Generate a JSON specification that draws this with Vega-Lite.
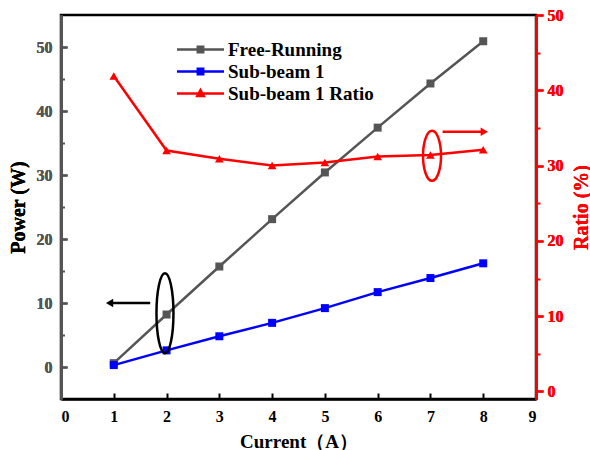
{
  "$schema": "https://vega.github.io/schema/vega-lite/v6.json",
  "width": 475,
  "height": 384,
  "autosize": "none",
  "padding": {"left": 61, "top": 15, "right": 54, "bottom": 51},
  "background": "white",
  "config": {
    "font": "Liberation Serif",
    "view": {"stroke": "black", "strokeWidth": 2.5},
    "axis": {"grid": false, "labelFont": "Liberation Serif", "labelFontWeight": "bold", "titleFont": "Liberation Serif", "titleFontWeight": "bold"}
  },
  "encoding": {
    "x": {
      "field": "x",
      "type": "quantitative",
      "scale": {"domain": [0, 9], "nice": false, "zero": false},
      "axis": {
        "title": "Current（A）",
        "values": [0, 1, 2, 3, 4, 5, 6, 7, 8, 9],
        "format": "d",
        "domainColor": "black",
        "domainWidth": 2.5,
        "tickColor": "black",
        "tickWidth": 2,
        "tickSize": -6,
        "labelPadding": 15,
        "labelColor": "black",
        "labelFontSize": 16,
        "titleFontSize": 19,
        "titleColor": "black",
        "titlePadding": 8
      }
    }
  },
  "layer": [
    {
      "encoding": {
        "y": {
          "field": "y",
          "type": "quantitative",
          "scale": {"domain": [-5, 55], "nice": false, "zero": false},
          "axis": {
            "orient": "left",
            "title": "Power (W)",
            "values": [0, 10, 20, 30, 40, 50],
            "domainColor": "#555555",
            "domainWidth": 2.5,
            "tickColor": "#555555",
            "tickWidth": 2,
            "tickSize": -6,
            "labelPadding": 15,
            "labelColor": "#555555",
            "labelFontSize": 16,
            "titleFontSize": 20,
            "titleColor": "black",
            "titlePadding": 8
          }
        }
      },
      "layer": [
        {
          "data": {"values": [
            {"x": 1, "y": 0.6, "s": "Free-Running"},
            {"x": 2, "y": 8.2, "s": "Free-Running"},
            {"x": 3, "y": 15.7, "s": "Free-Running"},
            {"x": 4, "y": 23.1, "s": "Free-Running"},
            {"x": 5, "y": 30.4, "s": "Free-Running"},
            {"x": 6, "y": 37.4, "s": "Free-Running"},
            {"x": 7, "y": 44.3, "s": "Free-Running"},
            {"x": 8, "y": 50.9, "s": "Free-Running"},
            {"x": 1, "y": 0.3, "s": "Sub-beam 1"},
            {"x": 2, "y": 2.6, "s": "Sub-beam 1"},
            {"x": 3, "y": 4.8, "s": "Sub-beam 1"},
            {"x": 4, "y": 6.9, "s": "Sub-beam 1"},
            {"x": 5, "y": 9.2, "s": "Sub-beam 1"},
            {"x": 6, "y": 11.7, "s": "Sub-beam 1"},
            {"x": 7, "y": 13.9, "s": "Sub-beam 1"},
            {"x": 8, "y": 16.2, "s": "Sub-beam 1"}
          ]},
          "layer": [
            {
              "mark": {"type": "point", "filled": false, "opacity": 0, "strokeWidth": 2.5},
              "encoding": {
                "color": {
                  "field": "s",
                  "type": "nominal",
                  "scale": {"domain": ["Free-Running", "Sub-beam 1", "Sub-beam 1 Ratio"], "range": ["#555555", "#0000ff", "#ff0000"]},
                  "legend": {
                    "title": null,
                    "orient": "none",
                    "legendX": 103,
                    "legendY": 23,
                    "symbolSize": 400,
                    "symbolOffset": 25,
                    "symbolOpacity": 1,
                    "symbolStrokeWidth": 2.5,
                    "labelOffset": 16,
                    "rowPadding": -9,
                    "labelFont": "Liberation Serif",
                    "labelFontWeight": "bold",
                    "labelFontSize": 19,
                    "labelColor": "black"
                  }
                },
                "shape": {
                  "field": "s",
                  "type": "nominal",
                  "scale": {
                    "domain": ["Free-Running", "Sub-beam 1", "Sub-beam 1 Ratio"],
                    "range": [
                      "M-2.35,0H2.35M-0.27,-0.27H0.27V0.27H-0.27Z",
                      "M-2.35,0H2.35M-0.27,-0.27H0.27V0.27H-0.27Z",
                      "M-2.35,0H2.35M0,-0.35L0.32,0.24H-0.32Z"
                    ]
                  },
                  "legend": null
                }
              }
            },
            {
              "mark": {"type": "line", "strokeWidth": 2.5},
              "encoding": {
                "color": {"field": "s", "type": "nominal"}
              }
            },
            {
              "mark": {"type": "point", "shape": "square", "filled": true, "size": 64, "opacity": 1},
              "encoding": {
                "color": {"field": "s", "type": "nominal"}
              }
            }
          ]
        },
        {
          "data": {"values": [{"x": 1.97, "y": 8.4}]},
          "mark": {"type": "point", "filled": false, "stroke": "black", "strokeWidth": 2.5, "opacity": 1, "size": 6400,
            "shape": "M0,-1C0.1174,-1,0.2125,-0.5523,0.2125,0C0.2125,0.5523,0.1174,1,0,1C-0.1174,1,-0.2125,0.5523,-0.2125,0C-0.2125,-0.5523,-0.1174,-1,0,-1Z"},
          "encoding": {
            "y": {
              "field": "y",
              "type": "quantitative",
              "axis": {
                "orient": "left",
                "title": null,
                "values": [5, 15, 25, 35, 45],
                "labels": false,
                "domain": false,
                "tickColor": "#555555",
                "tickWidth": 2,
                "tickSize": -3.5
              }
            }
          }
        },
        {
          "data": {"values": [{"x": 1.69, "x2": 0.95, "y": 10}]},
          "mark": {"type": "rule", "color": "black", "strokeWidth": 2.5},
          "encoding": {"x2": {"field": "x2"}}
        },
        {
          "data": {"values": [{"xh": 0.92, "y": 10}]},
          "mark": {"type": "point", "shape": "triangle-left", "filled": true, "color": "black", "size": 70, "opacity": 1},
          "encoding": {"x": {"field": "xh", "type": "quantitative"}}
        }
      ],
      "resolve": {"axis": {"y": "independent"}}
    },
    {
      "encoding": {
        "y": {
          "field": "r",
          "type": "quantitative",
          "scale": {"domain": [-1, 50], "nice": false, "zero": false},
          "axis": {
            "orient": "right",
            "title": "Ratio (%)",
            "titleAngle": -90,
            "values": [0, 10, 20, 30, 40, 50],
            "domainColor": "#ff0000",
            "domainWidth": 2.5,
            "tickColor": "#ff0000",
            "tickWidth": 2,
            "tickSize": 7,
            "labelPadding": 4,
            "labelColor": "#ff0000",
            "labelFontSize": 16,
            "titleFontSize": 20,
            "titleColor": "#ff0000",
            "titlePadding": 28
          }
        }
      },
      "layer": [
        {
          "data": {"values": [
            {"x": 1, "r": 41.9, "s": "Sub-beam 1 Ratio"},
            {"x": 2, "r": 32.0, "s": "Sub-beam 1 Ratio"},
            {"x": 3, "r": 30.9, "s": "Sub-beam 1 Ratio"},
            {"x": 4, "r": 30.0, "s": "Sub-beam 1 Ratio"},
            {"x": 5, "r": 30.4, "s": "Sub-beam 1 Ratio"},
            {"x": 6, "r": 31.2, "s": "Sub-beam 1 Ratio"},
            {"x": 7, "r": 31.4, "s": "Sub-beam 1 Ratio"},
            {"x": 8, "r": 32.1, "s": "Sub-beam 1 Ratio"}
          ]},
          "layer": [
            {
              "mark": {"type": "line", "strokeWidth": 2.5},
              "encoding": {"color": {"field": "s", "type": "nominal"}}
            },
            {
              "mark": {"type": "point", "shape": "triangle-up", "filled": true, "size": 75, "opacity": 1},
              "encoding": {"color": {"field": "s", "type": "nominal"}}
            }
          ]
        },
        {
          "data": {"values": [{"x": 7.03, "r": 31.3}]},
          "mark": {"type": "point", "filled": false, "stroke": "#ff0000", "strokeWidth": 2.5, "opacity": 1, "size": 2500,
            "shape": "M0,-1C0.1988,-1,0.36,-0.5523,0.36,0C0.36,0.5523,0.1988,1,0,1C-0.1988,1,-0.36,0.5523,-0.36,0C-0.36,-0.5523,-0.1988,-1,0,-1Z"},
          "encoding": {
            "y": {
              "field": "r",
              "type": "quantitative",
              "axis": {
                "orient": "right",
                "title": null,
                "values": [5, 15, 25, 35, 45],
                "labels": false,
                "domain": false,
                "tickColor": "#ff0000",
                "tickWidth": 2,
                "tickSize": 4
              }
            }
          }
        },
        {
          "data": {"values": [{"x": 7.23, "x2": 8.0, "r": 34.5}]},
          "mark": {"type": "rule", "color": "#ff0000", "strokeWidth": 2.5},
          "encoding": {"x2": {"field": "x2"}}
        },
        {
          "data": {"values": [{"xh": 8.02, "r": 34.5}]},
          "mark": {"type": "point", "shape": "triangle-right", "filled": true, "color": "#ff0000", "size": 70, "opacity": 1},
          "encoding": {"x": {"field": "xh", "type": "quantitative"}}
        }
      ],
      "resolve": {"axis": {"y": "independent"}}
    }
  ],
  "resolve": {"scale": {"y": "independent"}}
}
